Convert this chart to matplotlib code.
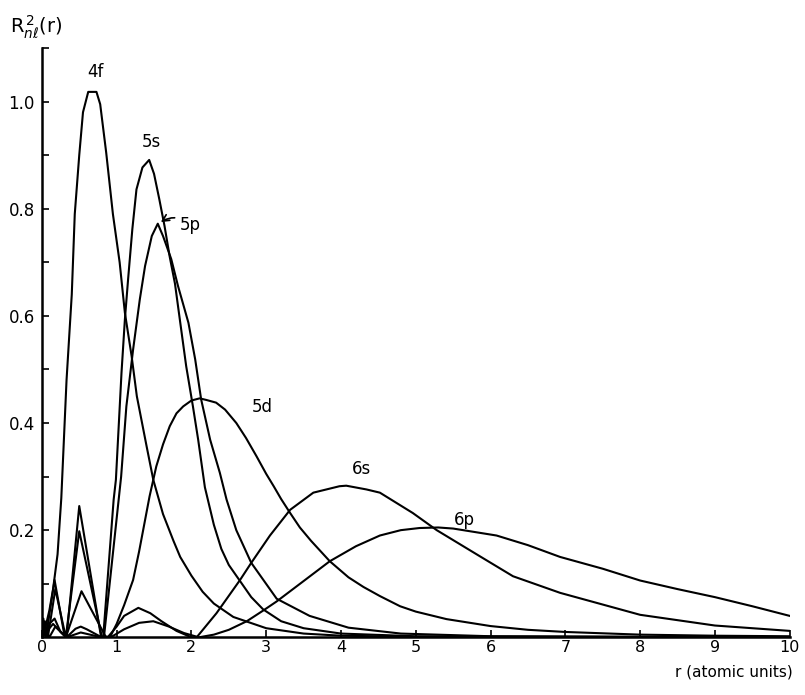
import matplotlib.pyplot as plt

# radial densities R^2_nl(r), read point by point (r in atomic units)
r_4f = [0, 0.05, 0.1, 0.15, 0.21, 0.26, 0.33, 0.4, 0.44, 0.5, 0.55, 0.62, 0.73, 0.78, 0.86, 0.95,
        1.04, 1.11, 1.2, 1.27, 1.4, 1.49, 1.62, 1.76, 1.85, 2.0, 2.15, 2.3, 2.56, 3.0, 3.5, 4.0, 5.0, 6.0, 10]
y_4f = [0, 0.02, 0.05, 0.09, 0.155, 0.26, 0.48, 0.64, 0.79, 0.9, 0.98, 1.018, 1.018, 0.995, 0.905, 0.79,
        0.70, 0.606, 0.525, 0.45, 0.357, 0.294, 0.23, 0.18, 0.15, 0.115, 0.085, 0.063, 0.038, 0.017, 0.007, 0.003, 0.0008, 0.0002, 0]

r_5s = [0, 0.02, 0.05, 0.09, 0.17, 0.3, 0.33, 0.5, 0.79, 0.82, 0.96, 0.99, 1.065, 1.11, 1.153, 1.21, 1.265, 1.345, 1.435,
        1.5, 1.57, 1.64, 1.71, 1.78, 1.845, 1.93, 2.02, 2.09, 2.18, 2.3, 2.4, 2.5, 2.65, 2.8, 2.96, 3.2, 3.5, 4.0, 5.0, 10]
y_5s = [0, 0.035, 0, 0.033, 0.107, 0.005, 0, 0.245, 0.002, 0, 0.257, 0.294, 0.494, 0.593, 0.668, 0.762, 0.836, 0.877, 0.891,
        0.865, 0.818, 0.768, 0.71, 0.66, 0.593, 0.506, 0.431, 0.369, 0.28, 0.21, 0.165, 0.135, 0.105, 0.075, 0.052, 0.03, 0.017, 0.007, 0.002, 0]

r_5p = [0, 0.04, 0.08, 0.18, 0.32, 0.5, 0.8, 0.83, 1.06, 1.13, 1.22, 1.31, 1.38, 1.47, 1.55, 1.62, 1.73, 1.82, 1.96,
        2.05, 2.13, 2.25, 2.38, 2.47, 2.6, 2.8, 3.14, 3.58, 4.1, 4.8, 6.0, 10]
y_5p = [0, 0.03, 0, 0.09, 0, 0.198, 0.002, 0, 0.30, 0.431, 0.537, 0.631, 0.693, 0.749, 0.772, 0.749, 0.706, 0.656, 0.587,
        0.519, 0.444, 0.369, 0.307, 0.257, 0.2, 0.139, 0.072, 0.04, 0.018, 0.007, 0.002, 0]

r_5d = [0, 0.15, 0.32, 0.53, 0.85, 0.91, 1.0, 1.1, 1.22, 1.3, 1.44, 1.53, 1.62, 1.71, 1.8, 1.89, 2.0, 2.11, 2.2, 2.33,
        2.45, 2.6, 2.73, 2.87, 3.0, 3.1, 3.2, 3.32, 3.45, 3.6, 3.85, 4.1, 4.3, 4.52, 4.79, 5.0, 5.41, 6.0, 6.5, 7.0, 8.0, 9.0, 10]
y_5d = [0, 0.025, 0, 0.086, 0.002, 0, 0.025, 0.06, 0.107, 0.16, 0.263, 0.319, 0.36, 0.394, 0.418, 0.431, 0.442, 0.446, 0.443, 0.438,
        0.425, 0.4, 0.372, 0.338, 0.305, 0.282, 0.258, 0.232, 0.205, 0.18, 0.142, 0.112, 0.094, 0.077, 0.058, 0.048, 0.034, 0.021, 0.014, 0.01, 0.005, 0.003, 0.002]

r_6s = [0, 0.02, 0.05, 0.1, 0.17, 0.25, 0.33, 0.45, 0.52, 0.6, 0.8, 0.88, 1.0, 1.1, 1.29, 1.45, 1.6, 1.8, 2.0, 2.07,
        2.335, 2.65, 2.8, 3.05, 3.32, 3.63, 3.98, 4.07, 4.34, 4.52, 4.96, 5.28, 5.86, 6.3, 6.93, 8.0, 9.0, 10]
y_6s = [0, 0.02, 0, 0.025, 0.035, 0.01, 0, 0.016, 0.02, 0.015, 0, 0, 0.02, 0.04, 0.055, 0.045, 0.03, 0.012, 0, 0,
        0.045, 0.107, 0.139, 0.19, 0.238, 0.27, 0.282, 0.283, 0.276, 0.27, 0.232, 0.2, 0.151, 0.114, 0.083, 0.042, 0.022, 0.012]

r_6p = [0, 0.06, 0.1, 0.18, 0.33, 0.52, 0.8, 0.92, 1.1, 1.3, 1.49, 1.7, 1.9, 2.1, 2.3, 2.5, 2.74, 2.96, 3.14, 3.5,
        3.85, 4.2, 4.52, 4.8, 5.05, 5.3, 5.5, 6.08, 6.5, 6.93, 7.5, 8.0, 8.5, 9.0, 9.5, 10]
y_6p = [0, 0.012, 0, 0.02, 0, 0.009, 0, 0, 0.015, 0.027, 0.03, 0.02, 0.008, 0, 0.005, 0.014, 0.03, 0.05, 0.067, 0.105,
        0.142, 0.17, 0.19, 0.2, 0.204, 0.205, 0.203, 0.19, 0.172, 0.15, 0.128, 0.106, 0.09, 0.075, 0.058, 0.04]

curvas = [(r_4f, y_4f), (r_5s, y_5s), (r_5p, y_5p), (r_5d, y_5d), (r_6s, y_6s), (r_6p, y_6p)]

fig = plt.figure(figsize=(8.05, 6.95), dpi=100)
ax = fig.add_axes([0.052, 0.083, 0.929, 0.848])

for r, y in curvas:
    ax.plot(r, y, color='black', lw=1.5, solid_joinstyle='round')

ax.set_xlim(0, 10)
ax.set_ylim(0, 1.10)
ax.spines['top'].set_visible(False)
ax.spines['right'].set_visible(False)
ax.spines['left'].set_linewidth(1.8)
ax.spines['bottom'].set_linewidth(1.8)

ax.set_xticks(range(0, 11))
ax.set_yticks([0.2, 0.4, 0.6, 0.8, 1.0])
ax.set_yticklabels(['0.2', '0.4', '0.6', '0.8', '1.0'])
ax.set_yticks([0.1, 0.3, 0.5, 0.7, 0.9, 1.1], minor=True)
ax.tick_params(axis='both', direction='in', length=5, width=1.2, labelsize=12)
ax.tick_params(axis='x', pad=2, labelsize=11.5)
ax.tick_params(axis='y', pad=5)
ax.tick_params(axis='y', which='minor', direction='in', length=5, width=1.2)

# etiquetas de orbitales
ax.text(0.72, 1.045, '4f', fontsize=12, ha='center')
ax.text(1.47, 0.915, '5s', fontsize=12, ha='center')
ax.annotate('5p', xy=(1.56, 0.772), xytext=(1.85, 0.77), fontsize=12, va='center',
            arrowprops=dict(arrowstyle='->', lw=1.2, connectionstyle='arc3,rad=0.4'))
ax.text(2.95, 0.42, '5d', fontsize=12, ha='center')
ax.text(4.28, 0.305, '6s', fontsize=12, ha='center')
ax.text(5.65, 0.21, '6p', fontsize=12, ha='center')

fig.text(0.012, 0.952, r'$\mathrm{R}^{\,2}_{n\ell}$(r)', fontsize=14)
fig.text(0.985, 0.026, 'r (atomic units)', fontsize=11, ha='right')

plt.savefig('out.png')
